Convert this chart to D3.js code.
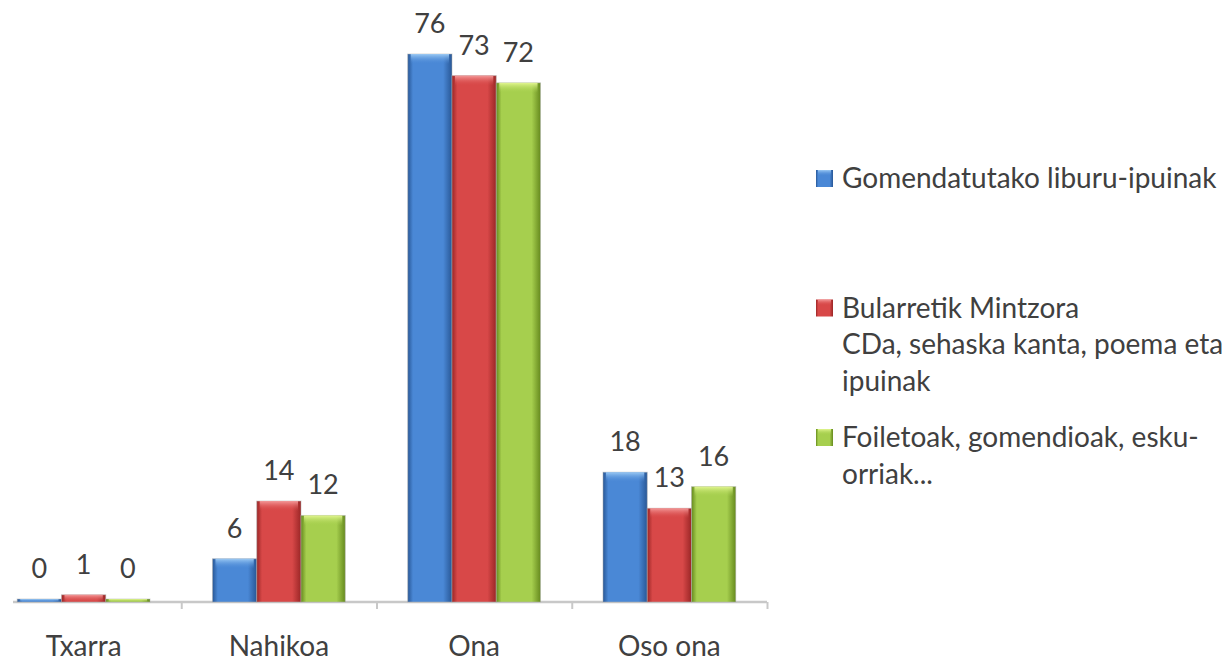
<!DOCTYPE html>
<html>
<head>
<meta charset="utf-8">
<script src="https://cdn.jsdelivr.net/npm/d3@7"></script>
<style>
  body { margin: 0; background: #fff; }
  text { font-family: Lato, "Open Sans", sans-serif; fill: #404040; }
</style>
</head>
<body>
<div id="chart"></div>
<script>
const categories = ["Txarra", "Nahikoa", "Ona", "Oso ona"];
const seriesKeys = ["gomendatu", "bularretik", "foiletoak"];
const gomendatu = [0, 6, 76, 18];
const bularretik = [1, 14, 73, 13];
const foiletoak = [0, 12, 72, 16];
const legendLines = [
  ["Gomendatutako liburu-ipuinak"],
  ["Bularretik Mintzora", "CDa, sehaska kanta, poema eta", "ipuinak"],
  ["Foiletoak, gomendioak, esku-", "orriak..."]
];

const width = 1232, height = 663;
// colour ramps: edge, middle, top highlight
const colors = {
  gomendatu:  { edge: "#285796", mid: "#4a88d6", top: "#9ccaf4" },
  bularretik: { edge: "#9a2626", mid: "#d84848", top: "#f49a9a" },
  foiletoak:  { edge: "#668a1e", mid: "#a6cf4e", top: "#e2f690" }
};

const rows = categories.map((c, i) => ({
  cat: c,
  gomendatu: gomendatu[i],
  bularretik: bularretik[i],
  foiletoak: foiletoak[i]
}));

const svg = d3.select("#chart").append("svg")
  .attr("width", width)
  .attr("height", height)
  .style("background", "#fff");

const defs = svg.append("defs");
seriesKeys.forEach(k => {
  const c = colors[k];
  const g = defs.append("linearGradient").attr("id", "side-" + k)
    .attr("x1", 0).attr("x2", 1).attr("y1", 0).attr("y2", 0);
  g.append("stop").attr("offset", "0%").attr("stop-color", c.edge);
  g.append("stop").attr("offset", "12%").attr("stop-color", c.mid);
  g.append("stop").attr("offset", "80%").attr("stop-color", c.mid);
  g.append("stop").attr("offset", "100%").attr("stop-color", c.edge);
  const t = defs.append("linearGradient").attr("id", "top-" + k)
    .attr("x1", 0).attr("x2", 0).attr("y1", 0).attr("y2", 1);
  t.append("stop").attr("offset", "0%").attr("stop-color", c.top).attr("stop-opacity", 1);
  t.append("stop").attr("offset", "100%").attr("stop-color", c.mid).attr("stop-opacity", 0);
});

// scales
const x0 = d3.scaleBand()
  .domain(categories)
  .range([-14, 767])
  .paddingInner(0.32)
  .paddingOuter(0.16);

const x1 = d3.scaleBand()
  .domain(seriesKeys)
  .range([0, x0.bandwidth()]);

const y = d3.scaleLinear()
  .domain([0, 76])
  .range([602, 54]);

// axis (category boundaries as ticks)
const axisX = d3.scaleLinear().domain([0, categories.length]).range(x0.range());
const axis = svg.append("g").attr("transform", `translate(0,${y(0)})`)
  .call(d3.axisBottom(axisX).tickValues(d3.range(1, categories.length + 1))
    .tickSize(7).tickSizeOuter(0).tickFormat(""));
axis.select(".domain").attr("d", `M13,0H${x0.range()[1]}`)
  .attr("stroke", "#c8c8c8").attr("stroke-width", 2.5);
axis.selectAll(".tick line").attr("stroke", "#c8c8c8").attr("stroke-width", 2);

// bars
const groups = svg.append("g").selectAll("g")
  .data(rows)
  .join("g")
  .attr("transform", d => `translate(${x0(d.cat)},0)`);

const bars = groups.selectAll("g")
  .data(d => seriesKeys.map(k => ({ key: k, value: d[k] })))
  .join("g");

const barH = d => Math.max(y(0) - y(d.value), 3);

bars.append("rect")
  .attr("x", d => x1(d.key))
  .attr("y", d => y(0) - barH(d))
  .attr("width", x1.bandwidth())
  .attr("height", barH)
  .attr("fill", d => `url(#side-${d.key})`)
  .attr("stroke", "#b0b0b0")
  .attr("stroke-opacity", 0.5)
  .attr("stroke-width", 1);

bars.append("rect")
  .attr("x", d => x1(d.key) + 3)
  .attr("y", d => y(0) - barH(d))
  .attr("width", x1.bandwidth() - 6)
  .attr("height", d => Math.min(10, barH(d)))
  .attr("fill", d => `url(#top-${d.key})`);

bars.append("text")
  .attr("x", d => x1(d.key) + x1.bandwidth() / 2)
  .attr("y", d => y(0) - barH(d) - 21)
  .attr("text-anchor", "middle")
  .style("font-size", "27px")
  .text(d => d.value);

// category labels
svg.append("g").selectAll("text")
  .data(categories)
  .join("text")
  .attr("x", d => x0(d) + x0.bandwidth() / 2)
  .attr("y", 656)
  .attr("text-anchor", "middle")
  .style("font-size", "28px")
  .text(d => d);

// legend
const ly = d3.scalePoint().domain(seriesKeys).range([188, 447]);
const legend = svg.append("g").selectAll("g")
  .data(seriesKeys)
  .join("g")
  .attr("transform", d => `translate(816,${ly(d)})`);

legend.append("rect")
  .attr("x", 0).attr("y", -18)
  .attr("width", 17).attr("height", 17)
  .attr("fill", d => `url(#side-${d})`);
legend.append("rect")
  .attr("x", 2).attr("y", -18)
  .attr("width", 13).attr("height", 6)
  .attr("fill", d => `url(#top-${d})`);

legend.append("text")
  .attr("x", 26)
  .style("font-size", "28px")
  .selectAll("tspan")
  .data((d, i) => legendLines[i])
  .join("tspan")
  .attr("x", 26)
  .attr("dy", (d, i) => i === 0 ? 0 : 36.7)
  .text(d => d);
</script>
</body>
</html>
